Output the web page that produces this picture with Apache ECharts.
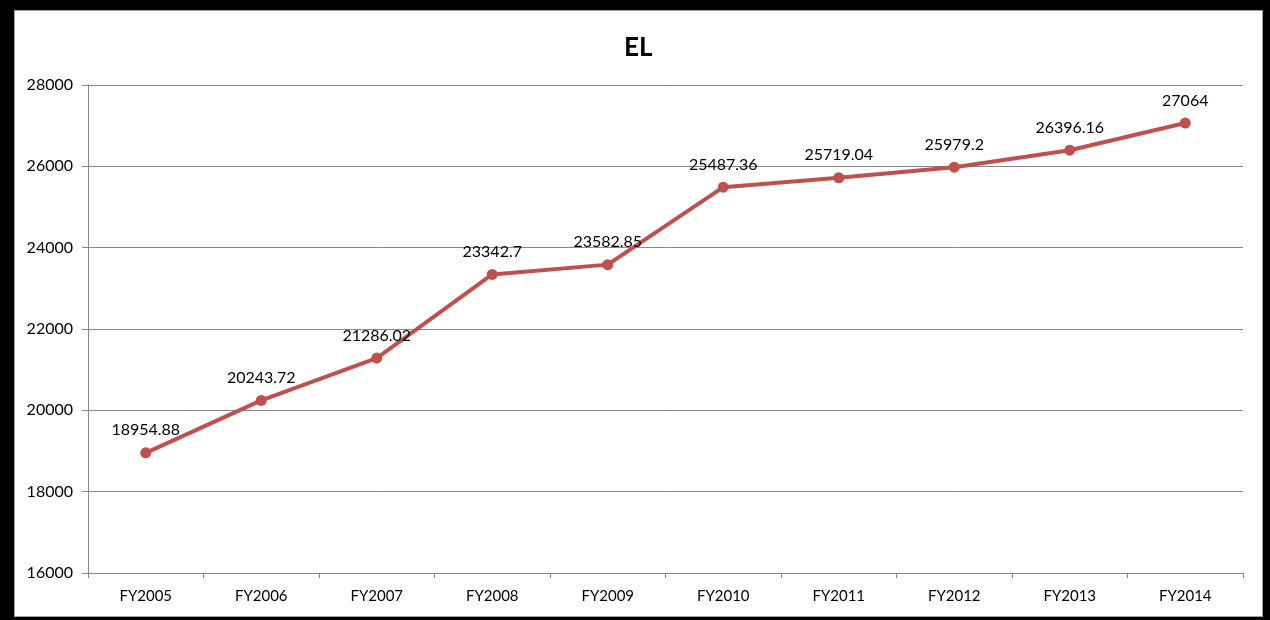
<!DOCTYPE html>
<html>
<head>
<meta charset="utf-8">
<script src="https://cdn.jsdelivr.net/npm/echarts@6/dist/echarts.min.js"></script>
<style>
  body { margin: 0; background: #000; }
  #frame { position: absolute; left: 14px; top: 10px; width: 1249px; height: 607px; box-sizing: border-box; background: #fff; border: 1px solid #a0a0a0; }
  #chart { position: absolute; left: 0; top: 0; width: 1270px; height: 620px; }
</style>
</head>
<body>
<div id="frame"></div>
<div id="chart"></div>
<script>
const years = ['FY2005', 'FY2006', 'FY2007', 'FY2008', 'FY2009', 'FY2010', 'FY2011', 'FY2012', 'FY2013', 'FY2014']
const elValues = [18954.88, 20243.72, 21286.02, 23342.7, 23582.85, 25487.36, 25719.04, 25979.2, 26396.16, 27064]

const font = 'Lato, "Open Sans", sans-serif'

let chart = echarts.init(document.getElementById('chart'))
let option = {
  backgroundColor: 'transparent',
  animation: false,
  title: {
    text: 'EL',
    left: 619,
    top: 30,
    textStyle: { fontFamily: font, fontSize: 26, fontWeight: 'bold', color: '#000' }
  },
  grid: { left: 88, right: 27, top: 85, bottom: 47 },
  xAxis: {
    type: 'category',
    data: years,
    boundaryGap: true,
    axisLine: { lineStyle: { color: '#868686', width: 1 } },
    axisTick: { show: true, length: 5, lineStyle: { color: '#868686' } },
    axisLabel: { color: '#000', fontFamily: font, fontSize: 15, margin: 16 }
  },
  yAxis: {
    type: 'value',
    min: 16000,
    max: 28000,
    interval: 2000,
    axisLine: { show: true, lineStyle: { color: '#868686', width: 1 } },
    axisTick: { show: true, length: 6, lineStyle: { color: '#868686' } },
    axisLabel: { color: '#000', fontFamily: font, fontSize: 16, margin: 15, formatter: v => String(v) },
    splitLine: { lineStyle: { color: '#888888', width: 1 } }
  },
  series: [
    {
      name: 'EL',
      type: 'line',
      data: elValues,
      symbol: 'circle',
      symbolSize: 11,
      lineStyle: { color: '#C0504D', width: 4 },
      itemStyle: { color: '#C0504D' },
      label: {
        show: true,
        position: 'top',
        distance: 9,
        color: '#000',
        fontFamily: font,
        fontSize: 16
      }
    }
  ]
}
chart.setOption(option)
</script>
</body>
</html>
